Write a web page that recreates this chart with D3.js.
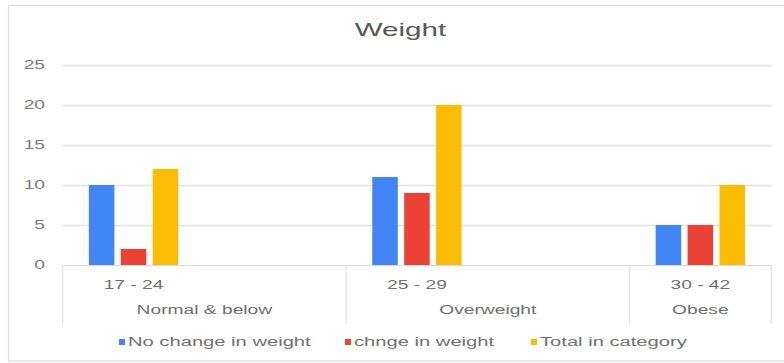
<!DOCTYPE html>
<html><head><meta charset="utf-8">
<script src="https://cdn.jsdelivr.net/npm/d3@7"></script>
<style>html,body{margin:0;padding:0;background:#fff;overflow:hidden}</style>
</head><body>
<svg id="c" width="784" height="363"></svg>
<script>
const subCategories = ["17 - 24", "", "25 - 29", "", "30 - 42"];
const groupLabels = ["Normal & below", "Overweight", "Obese"];
const groupSpans = [2, 2, 1];
const seriesNames = ["No change in weight", "chnge in weight", "Total in category"];
const noChange = [10, null, 11, null, 5];
const changed = [2, null, 9, null, 5];
const total = [12, null, 20, null, 10];
const yTicks = [0, 5, 10, 15, 20, 25];
const chartTitle = "Weight";

const colors = ["#4285F4", "#EA4335", "#FBBC04"];
const font = "'Liberation Sans', Arial, sans-serif";

const svg = d3.select("#c");
const pLeft = 62.7, pRight = 771.2, pTop = 65, pBottom = 265;

// chart frame
svg.append("rect").attr("x", 8.5).attr("y", 5.5).attr("width", 800).attr("height", 355.5)
  .attr("fill", "#fff").attr("stroke", "#dadada").attr("stroke-width", 1.2);

const y = d3.scaleLinear().domain([0, 25]).range([pBottom, pTop]);
const x = d3.scaleBand().domain(d3.range(subCategories.length)).range([pLeft, pRight]).padding(0);
const xs = d3.scaleBand().domain(d3.range(seriesNames.length)).range([0, x.bandwidth()])
  .paddingInner(0.2).paddingOuter(0.82);

function stretch(sel, k) {
  sel.each(function () {
    const w = this.getComputedTextLength();
    d3.select(this).attr("textLength", w * k).attr("lengthAdjust", "spacingAndGlyphs");
  });
  return sel;
}

// gridlines
svg.append("g").selectAll("line").data(yTicks.filter(d => d > 0)).join("line")
  .attr("x1", pLeft).attr("x2", pRight)
  .attr("y1", d => Math.round(y(d)) + 0.5).attr("y2", d => Math.round(y(d)) + 0.5)
  .attr("stroke", "#e3e3e3").attr("stroke-width", 1.3);

// y labels
stretch(svg.append("g").selectAll("text").data(yTicks).join("text")
  .attr("x", 45).attr("y", d => y(d)).attr("dy", "0.36em")
  .attr("text-anchor", "end").attr("font-family", font).attr("font-size", 12)
  .attr("fill", "#7a7a7a").text(d => d), 1.6);

// bars
const series = [noChange, changed, total];
series.forEach((vals, si) => {
  svg.append("g").selectAll("rect").data(vals.map((v, i) => ({ v, i })).filter(d => d.v != null)).join("rect")
    .attr("x", d => x(d.i) + xs(si)).attr("width", xs.bandwidth())
    .attr("y", d => y(d.v)).attr("height", d => y(0) - y(d.v))
    .attr("fill", colors[si]);
});

// x axis baseline
svg.append("line").attr("x1", pLeft).attr("x2", pRight).attr("y1", pBottom + 0.5).attr("y2", pBottom + 0.5)
  .attr("stroke", "#d9d9d9").attr("stroke-width", 1.2);

// group separators
const cum = [0];
groupSpans.forEach(s => cum.push(cum[cum.length - 1] + s));
const sepX = cum.map(c => c < subCategories.length ? x(c) : pRight);
svg.append("g").selectAll("line").data(sepX).join("line")
  .attr("x1", d => d).attr("x2", d => d).attr("y1", pBottom).attr("y2", 324)
  .attr("stroke", "#e0e0e0").attr("stroke-width", 1.2);

// level 1 labels
stretch(svg.append("g").selectAll("text").data(subCategories.map((t, i) => ({ t, i })).filter(d => d.t)).join("text")
  .attr("x", d => x(d.i) + x.bandwidth() / 2).attr("y", 285).attr("dy", "0.36em")
  .attr("text-anchor", "middle").attr("font-family", font).attr("font-size", 12)
  .attr("fill", "#707070").text(d => d.t), 1.6);

// level 2 labels
stretch(svg.append("g").selectAll("text").data(groupLabels).join("text")
  .attr("x", (d, i) => (sepX[i] + sepX[i + 1]) / 2).attr("y", 310).attr("dy", "0.36em")
  .attr("text-anchor", "middle").attr("font-family", font).attr("font-size", 12)
  .attr("fill", "#707070").text(d => d), 1.6);

// title
stretch(svg.append("text").attr("x", 400.5).attr("y", 36)
  .attr("text-anchor", "middle").attr("font-family", font).attr("font-size", 18.5)
  .attr("fill", "#595959").text(chartTitle), 1.6);

// legend
const legendX = [119, 345, 531];
const lg = svg.append("g").selectAll("g").data(seriesNames).join("g")
  .attr("transform", (d, i) => `translate(${legendX[i]},342)`);
lg.append("rect").attr("x", 0).attr("y", -3).attr("width", 6).attr("height", 6)
  .attr("fill", (d, i) => colors[i]);
stretch(lg.append("text").attr("x", 9).attr("y", 0).attr("dy", "0.36em")
  .attr("font-family", font).attr("font-size", 12).attr("fill", "#707070").text(d => d), 1.68);
</script>
</body></html>
